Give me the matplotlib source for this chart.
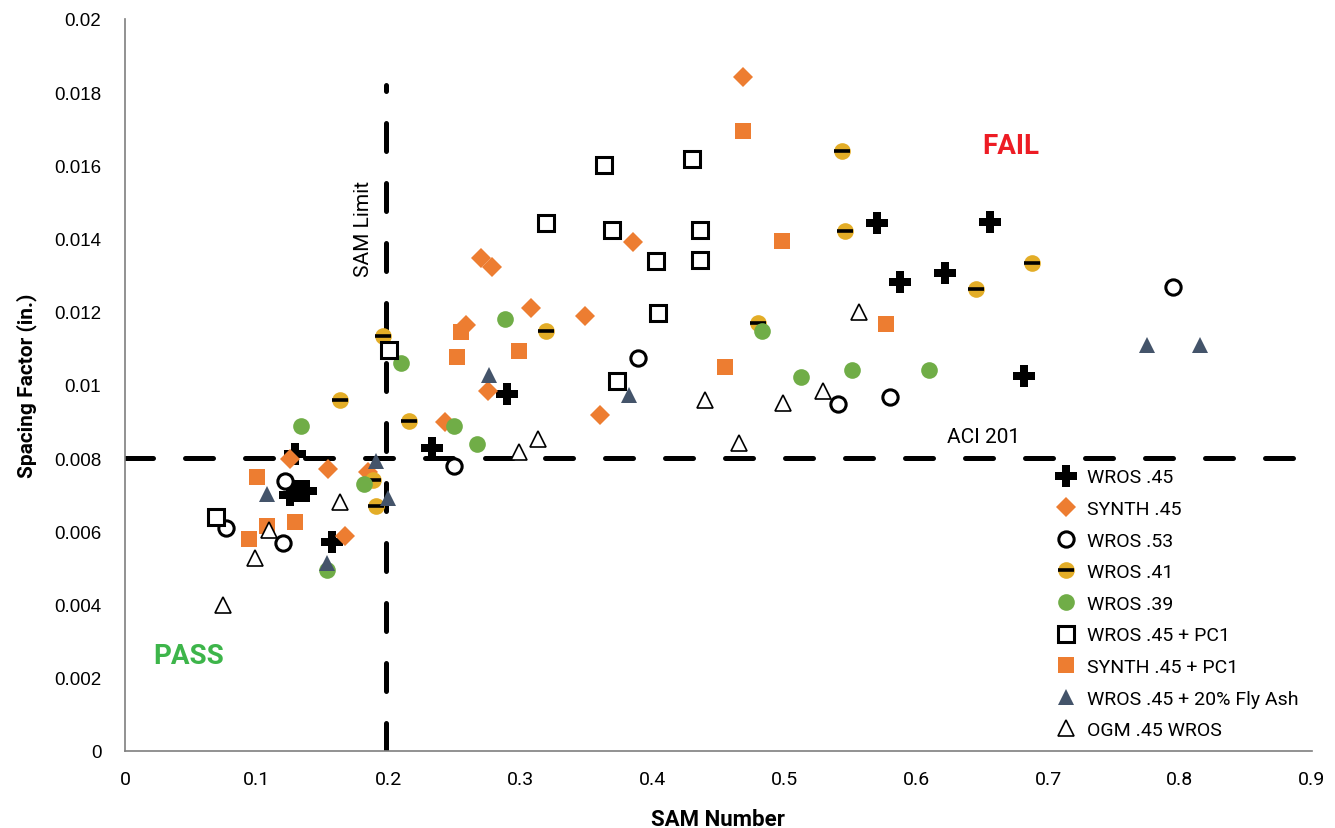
import matplotlib.pyplot as plt
from matplotlib.legend_handler import HandlerTuple

narrow = ['Roboto', 'DejaVu Sans']

# SAM number vs spacing factor, one pair of lists per mix
wros45_x = [0.129, 0.125, 0.131, 0.137, 0.157, 0.233, 0.290, 0.570, 0.588, 0.622, 0.656, 0.682]
wros45_y = [0.0081, 0.0070, 0.0071, 0.0071, 0.00571, 0.00827, 0.00975, 0.01443, 0.0128, 0.01307, 0.01446, 0.01025]

synth45_x = [0.125, 0.154, 0.167, 0.184, 0.243, 0.270, 0.278, 0.259, 0.275, 0.308, 0.349, 0.360, 0.385, 0.469]
synth45_y = [0.00798, 0.00769, 0.00586, 0.00762, 0.00899, 0.01348, 0.01322, 0.01164, 0.00983, 0.0121, 0.01189, 0.00918, 0.0139, 0.0184]

wros53_x = [0.0765, 0.121, 0.120, 0.2495, 0.389, 0.5405, 0.580, 0.795]
wros53_y = [0.0061, 0.00738, 0.00567, 0.00778, 0.01073, 0.00947, 0.00967, 0.01267]

wros41_x = [0.163, 0.190, 0.188, 0.196, 0.2155, 0.319, 0.480, 0.544, 0.546, 0.645, 0.688]
wros41_y = [0.00959, 0.00668, 0.0074, 0.01134, 0.00901, 0.01147, 0.0117, 0.0164, 0.0142, 0.01261, 0.01333]

wros39_x = [0.1335, 0.181, 0.153, 0.209, 0.2495, 0.267, 0.288, 0.483, 0.513, 0.551, 0.610]
wros39_y = [0.00889, 0.0073, 0.00495, 0.01059, 0.00888, 0.00839, 0.01179, 0.01148, 0.01021, 0.0104, 0.0104]

wros45pc_x = [0.0687, 0.200, 0.319, 0.3635, 0.369, 0.4025, 0.404, 0.373, 0.430, 0.436, 0.436]
wros45pc_y = [0.0064, 0.01095, 0.01442, 0.0160, 0.01424, 0.01338, 0.01197, 0.01012, 0.01617, 0.01424, 0.0134]

synth45pc_x = [0.0998, 0.094, 0.1075, 0.129, 0.2515, 0.255, 0.299, 0.455, 0.469, 0.498, 0.5775]
synth45pc_y = [0.00748, 0.00578, 0.00615, 0.00626, 0.01077, 0.01145, 0.01092, 0.01048, 0.01695, 0.01393, 0.01167]

flyash_x = [0.108, 0.1535, 0.1905, 0.1995, 0.276, 0.3823, 0.775, 0.815]
flyash_y = [0.00701, 0.00513, 0.00791, 0.0069, 0.01027, 0.00973, 0.0111, 0.0111]

ogm_x = [0.0745, 0.0985, 0.109, 0.163, 0.299, 0.313, 0.44, 0.466, 0.499, 0.529, 0.557]
ogm_y = [0.0040, 0.00528, 0.00603, 0.0068, 0.00817, 0.00853, 0.00959, 0.00842, 0.0095, 0.00983, 0.0120]

sam_limit = 0.198
aci_limit = 0.008

orange = '#ED7D31'
yellow = '#E3AD27'
green = '#70AD47'
navy = '#44546A'

fig = plt.figure(figsize=(13.35, 8.29), dpi=100)
ax = fig.add_axes([0.0936, 0.093, 0.889, 0.883])

# limit lines
ax.plot([0, 0.9], [aci_limit, aci_limit], color='black', lw=3.6, dashes=(5.6, 6.4),
        dash_capstyle='round', zorder=1)
ax.plot([sam_limit, sam_limit], [0, 0.0182], color='black', lw=3.6, dashes=(5.6, 6.4),
        dash_capstyle='round', zorder=1)

h1, = ax.plot(wros45_x, wros45_y, 'P', color='black', ms=16, mew=0, ls='none', zorder=3)
h2, = ax.plot(synth45_x, synth45_y, 'D', color=orange, ms=10, mew=0, ls='none', zorder=3)
h3, = ax.plot(wros53_x, wros53_y, 'o', mfc='white', mec='black', ms=11, mew=2.2, ls='none', zorder=3)
h4a, = ax.plot(wros41_x, wros41_y, 'o', color=yellow, ms=12, mew=0, ls='none', zorder=3)
h4b, = ax.plot(wros41_x, wros41_y, '_', color='black', ms=12, mew=2.6, ls='none', zorder=3)
h5, = ax.plot(wros39_x, wros39_y, 'o', color=green, ms=12, mew=0, ls='none', zorder=3)
h6, = ax.plot(wros45pc_x, wros45pc_y, 's', mfc='white', mec='black', ms=11, mew=2.2, ls='none', zorder=3)
h7, = ax.plot(synth45pc_x, synth45pc_y, 's', color=orange, ms=12, mew=0, ls='none', zorder=3)
h8, = ax.plot(flyash_x, flyash_y, '^', color=navy, ms=12, mew=0, ls='none', zorder=3)
h9, = ax.plot(ogm_x, ogm_y, '^', mfc='white', mec='black', ms=12, mew=1.2, ls='none', zorder=3)

ax.set_xlim(0, 0.9)
ax.set_ylim(0, 0.02)
ax.set_xticks([0, 0.1, 0.2, 0.3, 0.4, 0.5, 0.6, 0.7, 0.8, 0.9])
ax.set_xticklabels(['0', '0.1', '0.2', '0.3', '0.4', '0.5', '0.6', '0.7', '0.8', '0.9'],
                   family=narrow, fontsize=14)
ax.set_yticks([0, 0.002, 0.004, 0.006, 0.008, 0.01, 0.012, 0.014, 0.016, 0.018, 0.02])
ax.set_yticklabels(['0', '0.002', '0.004', '0.006', '0.008', '0.01', '0.012', '0.014', '0.016', '0.018', '0.02'],
                   family='Liberation Sans', fontsize=13.5)
ax.tick_params(length=0, pad=14)
ax.tick_params(axis='y', pad=17)

for s in ['top', 'right']:
    ax.spines[s].set_visible(False)
for s in ['left', 'bottom']:
    ax.spines[s].set_color('#7f7f7f')
    ax.spines[s].set_linewidth(1.2)

ax.set_xlabel('SAM Number', family=narrow, fontsize=16, fontweight='bold', labelpad=14)
ax.set_ylabel('Spacing Factor (in.)', family=narrow, fontsize=15, fontweight='bold', labelpad=12)

ax.text(0.181, 0.0143, 'SAM Limit', rotation=90, ha='center', va='center', family=narrow, fontsize=15)
ax.text(0.651, 0.0086, 'ACI 201', ha='center', va='center', family=narrow, fontsize=15)
ax.text(0.672, 0.01655, 'FAIL', ha='center', va='center', family=narrow, fontsize=20,
        fontweight='bold', color='#ED1C24')
ax.text(0.048, 0.0026, 'PASS', ha='center', va='center', family=narrow, fontsize=20,
        fontweight='bold', color='#3DB54A')

handles = [h1, h2, h3, (h4a, h4b), h5, h6, h7, h8, h9]
labels = ['WROS .45', 'SYNTH .45', 'WROS .53', 'WROS .41', 'WROS .39',
          'WROS .45 + PC1', 'SYNTH .45 + PC1', 'WROS .45 + 20% Fly Ash', 'OGM .45 WROS']
ax.legend(handles, labels, loc='lower left', bbox_to_anchor=(0.77, -0.008), frameon=False,
          prop={'family': narrow, 'size': 14}, handlelength=1.0, handletextpad=0.6,
          labelspacing=0.7, handler_map={tuple: HandlerTuple(ndivide=1)})

fig.savefig('out.png', dpi=100)
